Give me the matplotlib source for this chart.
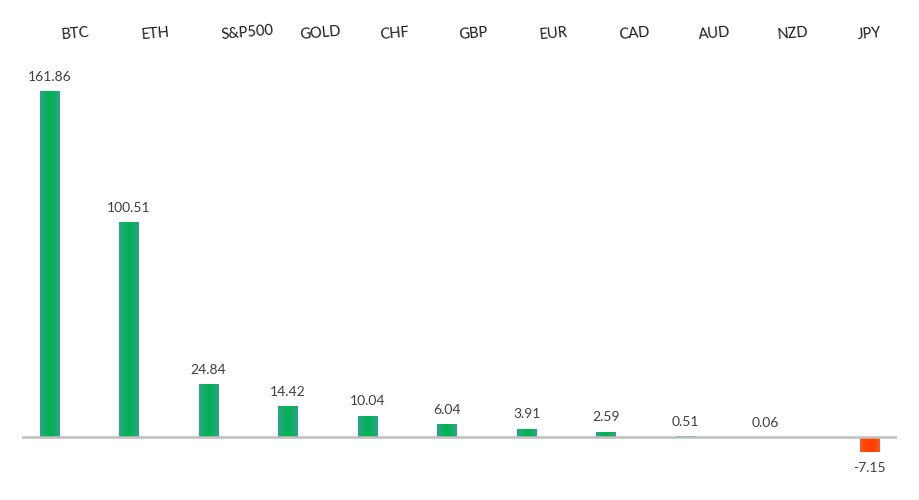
import numpy as np
import matplotlib
matplotlib.use("Agg")
import matplotlib.pyplot as plt
from matplotlib.colors import LinearSegmentedColormap
from matplotlib.transforms import blended_transform_factory

categories = ["BTC", "ETH", "S&P500", "GOLD", "CHF", "GBP", "EUR", "CAD", "AUD", "NZD", "JPY"]
values = [161.86, 100.51, 24.84, 14.42, 10.04, 6.04, 3.91, 2.59, 0.51, 0.06, -7.15]

plt.rcParams['font.family'] = ['Lato', 'DejaVu Sans']

fig = plt.figure(figsize=(9.19, 5.0), dpi=100)
ax = fig.add_axes([22/919, 0.0618, (897-22)/919, 0.874-0.0618])

x = np.arange(len(categories))
pos_vals = [v if v >= 0 else 0 for v in values]
neg_vals = [v if v < 0 else 0 for v in values]
off = 0.155
w = 0.25

green_cmap = LinearSegmentedColormap.from_list("g", ["#2fa38c", "#12ad68", "#00b050", "#12ad68", "#2fa38c"])
red_cmap = LinearSegmentedColormap.from_list("r", ["#ff5a1e", "#ff4500", "#ff4000", "#ff4500", "#ff5a1e"])

bars_g = ax.bar(x - off, pos_vals, width=w, color="#0bb05c", zorder=2)
bars_r = ax.bar(x + off, neg_vals, width=w, color="#ff4500", zorder=2)

grad = np.linspace(0, 1, 64).reshape(1, -1)
for bars, cmap in ((bars_g, green_cmap), (bars_r, red_cmap)):
    for b in bars:
        if b.get_height() == 0:
            continue
        x0, y0 = b.get_x(), b.get_y()
        x1, y1 = x0 + b.get_width(), y0 + b.get_height()
        im = ax.imshow(grad, cmap=cmap, aspect="auto", extent=[x0, x1, min(y0, y1), max(y0, y1)], zorder=3)
        im.set_clip_path(b)

ax.set_xlim(-0.5, len(categories) - 0.5)
ax.set_ylim(-15, 175)
ax.axhline(0, color="#bfbfbf", lw=1.8, zorder=4)
ax.axis("off")

for i, v in enumerate(values):
    if v >= 0:
        ax.annotate(f"{v:.2f}", (i - off, v), xytext=(0, 6), textcoords="offset points",
                    ha="center", va="bottom", fontsize=10, color="#404040")
    else:
        ax.annotate(f"{v:.2f}", (i + off, v), xytext=(0, -7), textcoords="offset points",
                    ha="center", va="top", fontsize=10, color="#404040")

trans = blended_transform_factory(ax.transData, fig.transFigure)
for i, c in enumerate(categories):
    ax.text(i, 0.93, c, transform=trans, ha="left", va="center", fontsize=10.5,
            color="#1a1a1a", rotation=5, rotation_mode="anchor", clip_on=False)

fig.savefig("out.png", dpi=100)
